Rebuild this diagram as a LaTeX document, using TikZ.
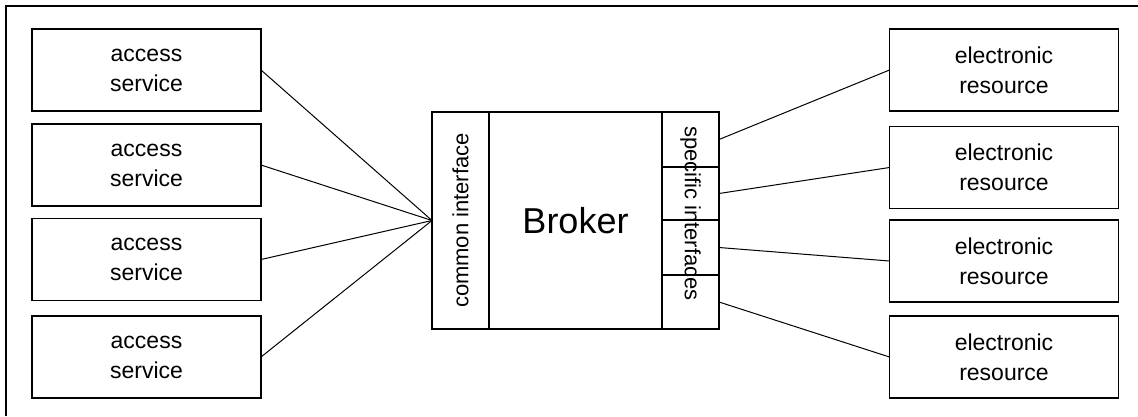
\documentclass[tikz,border=0pt]{standalone}
\usepackage{fontspec}
\setmainfont{Liberation Sans}
\begin{document}
\begin{tikzpicture}[x={(1pt,0)},y={(0,-1pt)},
  box/.style={draw,line width=1.2pt,inner sep=0pt,outer sep=0pt,minimum width=229pt,minimum height=82pt,align=center,font=\fontsize{23}{30}\selectfont},
  seg/.style={draw,line width=1.2pt,inner sep=0pt,outer sep=0pt,minimum width=57pt},
  conn/.style={line width=1pt}]
\useasboundingbox (0,0) rectangle (1138,416);
\draw[line width=1.3pt] (6,416) -- (6,6) -- (1138,6);
% left boxes
\node[box] (as1) at (146.5,70) {access\\service};
\node[box] (as2) at (146.5,165) {access\\service};
\node[box] (as3) at (146.5,259.5) {access\\service};
\node[box] (as4) at (146.5,357) {access\\service};
% right boxes
\node[box] (er1) at (1004,70) {electronic\\resource};
\node[box] (er2) at (1004,167.5) {electronic\\resource};
\node[box] (er3) at (1004,261) {electronic\\resource};
\node[box] (er4) at (1004,357) {electronic\\resource};
% broker
\node[draw,line width=1.2pt,inner sep=0pt,outer sep=0pt,minimum width=287pt,minimum height=217pt,font=\fontsize{36}{40}\selectfont] (broker) at (575.5,220.5) {Broker};
\node[seg,minimum height=217pt] (ci) at (460.5,220.5) {};
\node[rotate=90,font=\fontsize{22}{26}\selectfont,inner sep=0pt] (cit) at (ci.center) {common interface};
\node[seg,minimum height=55pt] (s1) at (690.5,139.5) {};
\node[seg,minimum height=53pt] (s2) at (690.5,193.5) {};
\node[seg,minimum height=55pt] (s3) at (690.5,247.5) {};
\node[seg,minimum height=54pt] (s4) at (690.5,302) {};
\node[rotate=-90,font=\fontsize{22}{26}\selectfont,inner sep=0pt] (sit) at (690.5,213.5) {specific interfaces};
% connectors
\draw[conn] (as1.east) -- (ci.west);
\draw[conn] (as2.east) -- (ci.west);
\draw[conn] (as3.east) -- (ci.west);
\draw[conn] (as4.east) -- (ci.west);
\draw[conn] (s1.east) -- (er1.west);
\draw[conn] (s2.east) -- (er2.west);
\draw[conn] (s3.east) -- (er3.west);
\draw[conn] (s4.east) -- (er4.west);
\end{tikzpicture}
\end{document}
